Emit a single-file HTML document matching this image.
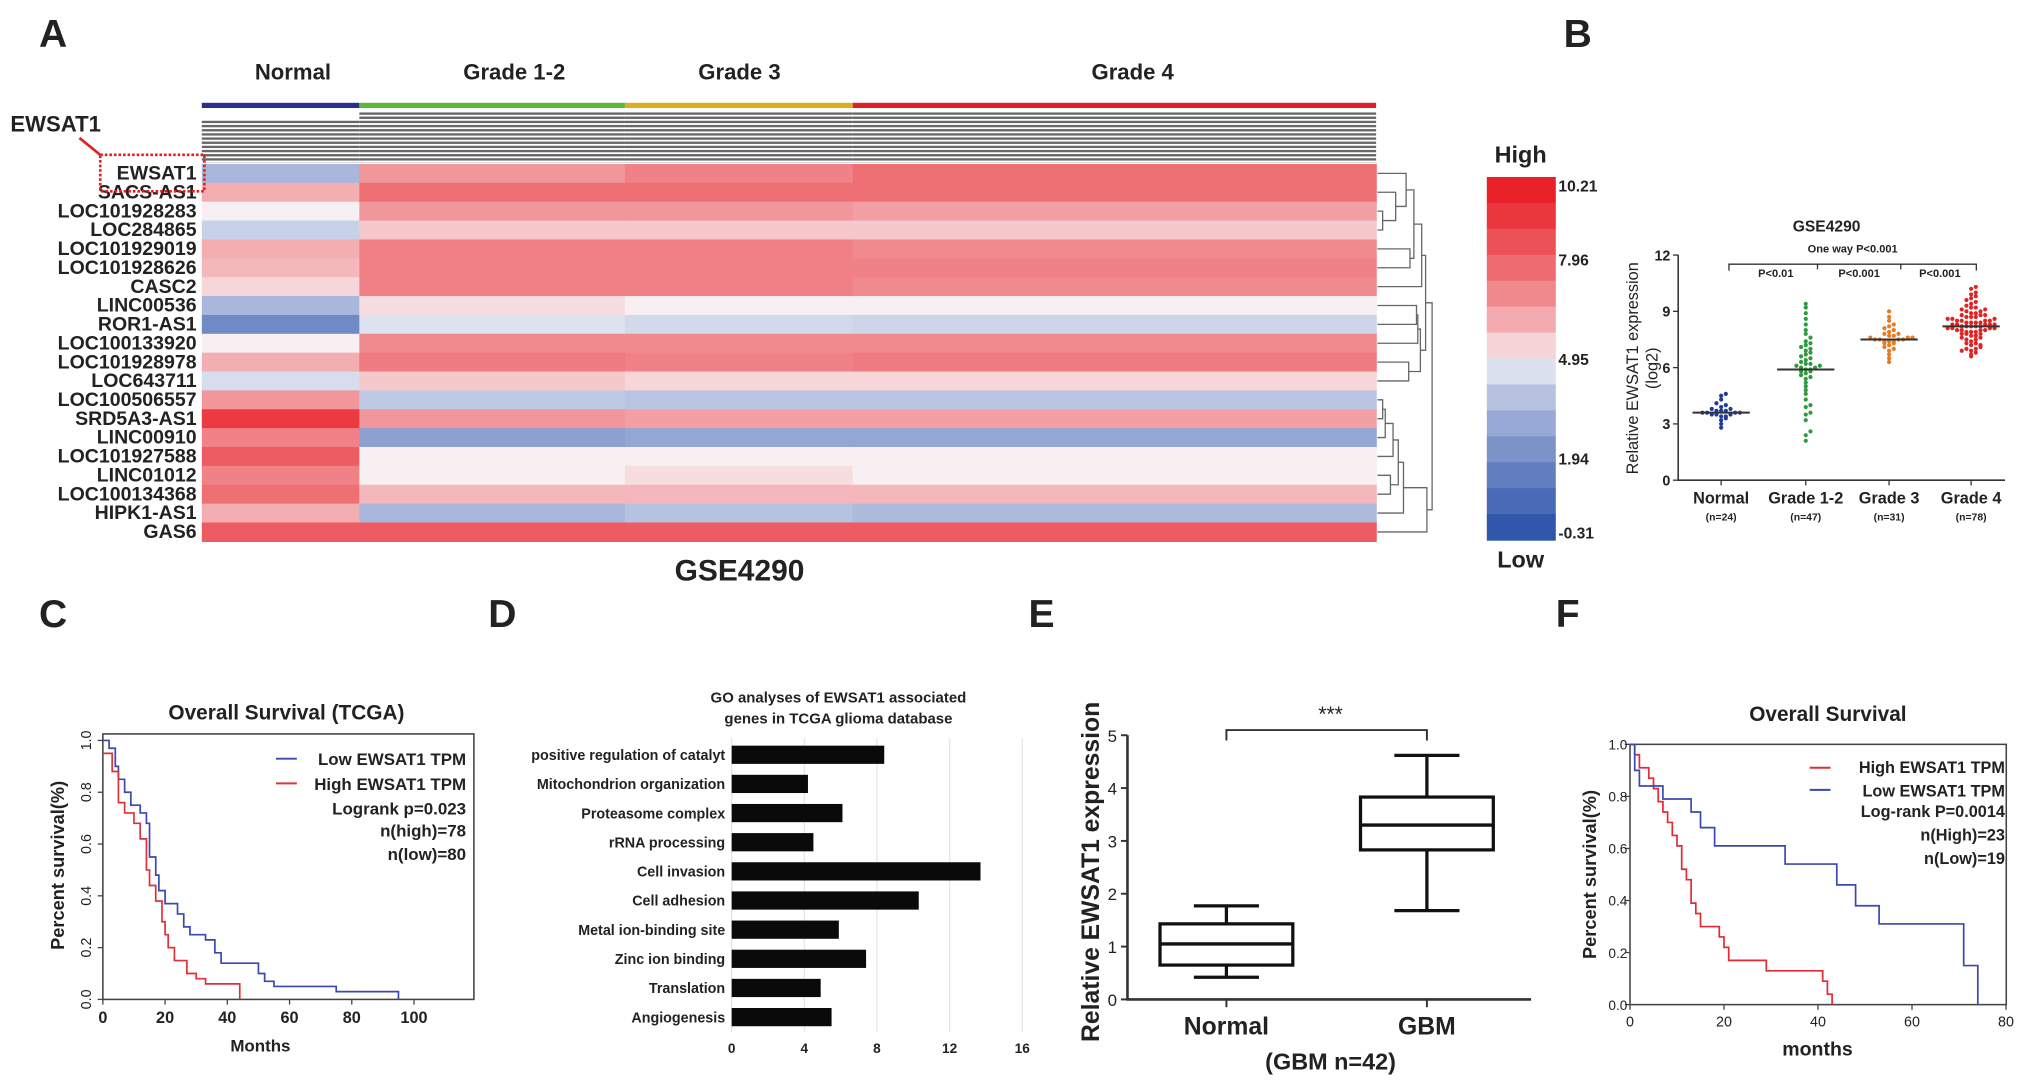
<!DOCTYPE html>
<html><head><meta charset="utf-8">
<style>
html,body{margin:0;padding:0;background:#fff;}
svg{display:block;font-family:"Liberation Sans",Arial,sans-serif;}
</style></head>
<body>
<svg id="fig" width="2031" height="1084" viewBox="0 0 1560 833" preserveAspectRatio="none" xmlns="http://www.w3.org/2000/svg">
<defs>
<pattern id="hatch" width="4" height="3.2" patternUnits="userSpaceOnUse">
<rect width="4" height="3.2" fill="#fff"/><rect width="4" height="1.8" fill="#666"/>
</pattern>
</defs>
<g id="root"></g>
</svg>
<script>
// ===== Panel A data =====
const heatGenes = ["EWSAT1","SACS-AS1","LOC101928283","LOC284865","LOC101929019","LOC101928626","CASC2","LINC00536","ROR1-AS1","LOC100133920","LOC101928978","LOC643711","LOC100506557","SRD5A3-AS1","LINC00910","LOC101927588","LINC01012","LOC100134368","HIPK1-AS1","GAS6"];
const heatGroups = ["Normal","Grade 1-2","Grade 3","Grade 4"];
const heatGroupN = [24,47,31,78];
const heatNormal = [3.5,6.0,5.0,4.2,6.0,5.8,5.3,3.5,2.0,5.0,6.0,4.5,6.5,9.0,7.0,8.0,7.0,7.5,6.0,8.0];
const heatG12 = [6.5,7.5,6.5,5.5,7.0,7.0,7.0,5.2,4.6,6.8,7.2,5.5,4.0,6.5,2.8,5.0,5.0,5.8,3.5,8.0];
const heatG3 = [7.0,7.5,6.5,5.5,7.0,7.0,7.0,5.0,4.4,6.8,7.0,5.3,3.9,6.3,3.0,5.0,5.2,5.8,3.8,8.0];
const heatG4 = [7.5,7.5,6.3,5.5,6.8,7.0,6.8,5.0,4.3,6.8,7.2,5.3,3.9,6.3,3.0,5.0,5.0,5.8,3.6,8.0];
const scaleTicks = [10.21,7.96,4.95,1.94,-0.31];
// ===== Panel B data =====
const bCats = ["Normal","Grade 1-2","Grade 3","Grade 4"];
const bNs = ["(n=24)","(n=47)","(n=31)","(n=78)"];
const bNormal = [3.0,3.2,3.3,3.4,3.4,3.5,3.5,3.5,3.6,3.6,3.6,3.6,3.7,3.7,3.7,3.8,3.8,3.9,4.0,4.1,4.3,4.5,4.6,2.8];
const bG12 = [2.1,2.4,2.6,3.2,3.5,3.6,3.9,4.3,4.6,4.8,5.0,5.2,5.4,5.5,5.6,5.7,5.8,5.8,5.9,5.9,6.0,6.0,6.1,6.1,6.2,6.2,6.3,6.4,6.5,6.6,6.7,6.8,6.9,7.0,7.1,7.2,7.3,7.4,7.6,7.8,8.0,8.3,8.6,8.9,9.2,9.4,4.0];
const bG3 = [6.3,6.5,6.7,6.9,7.0,7.1,7.2,7.3,7.3,7.4,7.4,7.4,7.5,7.5,7.5,7.5,7.6,7.6,7.6,7.7,7.7,7.8,7.8,7.9,8.0,8.1,8.2,8.3,8.5,8.7,9.0];
const bG4 = [6.6,6.7,6.8,6.9,7.0,7.0,7.1,7.2,7.3,7.3,7.4,7.5,7.5,7.6,7.6,7.7,7.7,7.8,7.8,7.8,7.9,7.9,7.9,8.0,8.0,8.0,8.0,8.1,8.1,8.1,8.1,8.2,8.2,8.2,8.2,8.2,8.3,8.3,8.3,8.3,8.3,8.4,8.4,8.4,8.4,8.5,8.5,8.5,8.5,8.6,8.6,8.6,8.7,8.7,8.7,8.8,8.8,8.8,8.9,8.9,9.0,9.0,9.1,9.1,9.2,9.2,9.3,9.4,9.5,9.6,9.7,9.8,9.9,10.0,10.2,10.3,6.9,7.2];
const bMeans = [3.6,5.9,7.5,8.2];
const bYTicks = [0,3,6,9,12];
// ===== Panel C data =====
const cLowT = [0,2,4,5,7,9,12,14,15,17,18,20,24,26,28,33,36,38,50,52,55,75,95];
const cLowS = [1,0.97,0.9,0.85,0.8,0.75,0.72,0.68,0.55,0.48,0.42,0.37,0.33,0.28,0.25,0.23,0.18,0.14,0.1,0.07,0.05,0.03,0];
const cHighT = [0,3,5,7,10,12,14,15,17,19,20,21,23,27,30,33,44];
const cHighS = [0.95,0.88,0.76,0.72,0.68,0.62,0.5,0.44,0.38,0.3,0.25,0.2,0.15,0.1,0.08,0.06,0];
const cXTicks = [0,20,40,60,80,100];
const cYTicks = [0,0.2,0.4,0.6,0.8,1.0];
// ===== Panel D data =====
const goTerms = ["positive regulation of catalyt","Mitochondrion organization","Proteasome complex","rRNA processing","Cell invasion","Cell adhesion","Metal ion-binding site","Zinc ion binding","Translation","Angiogenesis"];
const goValues = [8.4,4.2,6.1,4.5,13.7,10.3,5.9,7.4,4.9,5.5];
const goTicks = [0,4,8,12,16];
// ===== Panel E data =====
const eCats = ["Normal","GBM"];
const eMin = [0.42,1.68], eQ1=[0.65,2.83], eMed=[1.05,3.3], eQ3=[1.43,3.83], eMax=[1.77,4.62];
const eTicks = [0,1,2,3,4,5];
// ===== Panel F data =====
const fHighT = [0,1,2,4,5,6,7,8,9,10,11,12,13,14,15,19,20,21,29,41,42,43];
const fHighS = [1,0.96,0.91,0.87,0.83,0.78,0.74,0.7,0.65,0.61,0.52,0.48,0.39,0.35,0.3,0.26,0.22,0.17,0.13,0.09,0.04,0];
const fLowT = [0,1,2,7,13,15,18,33,44,48,53,71,74];
const fLowS = [1,0.9,0.84,0.79,0.74,0.68,0.61,0.54,0.46,0.38,0.31,0.15,0];
const fXTicks = [0,20,40,60,80];
const fYTicks = [0,0.2,0.4,0.6,0.8,1.0];

const NS="http://www.w3.org/2000/svg";
const root=document.getElementById('root');
function mk(tag,attrs,parent){const e=document.createElementNS(NS,tag);for(const k in attrs)e.setAttribute(k,attrs[k]);(parent||root).appendChild(e);return e;}
function txt(s,x,y,size,opts,parent){opts=opts||{};const e=mk('text',{x:x,y:y,'font-size':size,'font-weight':opts.w||'bold','text-anchor':opts.a||'start',fill:opts.fill||'#222'},parent);if(opts.rot)e.setAttribute('transform','rotate('+opts.rot+' '+x+' '+y+')');e.textContent=s;return e;}

// panel letters
[["A",30,36],["B",1201,36],["C",30,482],["D",375,482],["E",790,482],["F",1195,482]].forEach(p=>{const t=txt(p[0],p[1],p[2],30);

});

// ===== Panel A =====
const gA=mk('g',{});


const hx0=155,hx1=1057,hy0=126,rowH=14.5;
const grpW=[121,204,175,402];
const grpColors=["#2a2f8f","#5cb83a","#d8b020","#e02028"];
const grpLabelX=[225,395,568,870];
function heatColor(v){const lo=-0.31,mid=4.95,hi=10.21;let r,g,b;
 if(v>=mid){const t=Math.pow(Math.min(1,(v-mid)/(hi-mid)),0.7);r=248+(232-248)*t;g=248+(20-248)*t;b=250+(28-250)*t;}
 else{const t=Math.pow(Math.min(1,(mid-v)/(mid-lo)),0.75);r=248+(38-248)*t;g=248+(78-248)*t;b=250+(168-250)*t;}
 return 'rgb('+Math.round(r)+','+Math.round(g)+','+Math.round(b)+')';}
const heatData=[heatNormal,heatG12,heatG3,heatG4];
let gx=hx0;
heatGroups.forEach((gname,gi)=>{
 const t=txt(gname,grpLabelX[gi],61,17,{a:'middle'},gA);
 
 
 const bar=mk('rect',{x:gx,y:79,width:grpW[gi],height:4,fill:grpColors[gi]},gA);
 
 
 const hat=mk('rect',{x:gx,y:gi==0?92:86,width:grpW[gi],height:gi==0?33:39,fill:'url(#hatch)'},gA);
 
 
 heatGenes.forEach((gene,ri)=>{
  const c=mk('rect',{x:gx,y:hy0+ri*rowH,width:grpW[gi]+0.5,height:rowH+0.5,fill:heatColor(heatData[gi][ri])},gA);
  
  
 });
 gx+=grpW[gi];
});
heatGenes.forEach((gene,ri)=>{
 const t=txt(gene,151,hy0+ri*rowH+12,15,{a:'end'},gA);
 
 
});
let t0=txt("EWSAT1",8,101,17,{},gA);


const cb=mk('rect',{x:77,y:119,width:80,height:28,fill:'none',stroke:'#e02020','stroke-width':2,'stroke-dasharray':'2,1.5'},gA);


mk('line',{x1:61,y1:106,x2:77,y2:119,stroke:'#e02020','stroke-width':2},gA);
t0=txt("GSE4290",568,446,23,{a:'middle'},gA);


// dendrogram
const dend=mk('g',{stroke:'#666','stroke-width':1,fill:'none'},gA);


const dx0=1058;
const leafY=i=>hy0+(i+0.5)*rowH;
const nodes={};
function node(name,a,b,h){const A=typeof a==='number'?{y:leafY(a),h:0}:nodes[a];const B=typeof b==='number'?{y:leafY(b),h:0}:nodes[b];
 mk('path',{d:'M'+(dx0+A.h)+' '+A.y+'H'+(dx0+h)+'V'+B.y+'H'+(dx0+B.h)},dend);nodes[name]={y:(A.y+B.y)/2,h:h};}
node('n1',2,3,4);node('n2',1,'n1',14);node('n3',0,'n2',22);node('n4',4,5,25);node('n5','n3','n4',28);node('n6','n5',6,34);
node('n7',7,8,30);node('n8','n7',9,31);node('n9',10,11,24);node('n10','n8','n9',33);node('n11','n6','n10',37);
node('m1',12,13,4);node('m2','m1',14,6);node('m3','m2',15,12);node('m4',16,17,10);node('m5','m3','m4',16);node('m6','m5',18,20);node('m7','m6',19,38);node('r','n11','m7',42);
// color scale
const csx=1142,csy0=136,csy1=415,steps=14;
for(let i=0;i<steps;i++){const v=10.21-(10.21+0.31)*(i+0.5)/steps;
 const r=mk('rect',{x:csx,y:csy0+(csy1-csy0)*i/steps,width:53,height:(csy1-csy0)/steps+0.5,fill:heatColor(v)},gA);
 
 }
const csY=v=>csy0+6+(10.21-v)/(10.52)*(csy1-csy0-12);
scaleTicks.forEach(v=>{const t=txt(v.toFixed(2),1197,csY(v)+5,12,{},gA);
 
 });
t0=txt("High",1168,125,18,{a:'middle'},gA);
t0=txt("Low",1168,436,18,{a:'middle'},gA);

// ===== Panel B =====
const gB=mk('g',{});


const bx0=1289,bx1=1540,by0=369,by12=196;
const bY=v=>by0-(by0-by12)*v/12;
const bX=[1322,1387,1451,1514];
mk('path',{d:'M'+bx0+' '+by12+'V'+by0+'H'+bx1,stroke:'#333','stroke-width':1.2,fill:'none'},gB);
bYTicks.forEach(v=>{mk('line',{x1:bx0-4,x2:bx0,y1:bY(v),y2:bY(v),stroke:'#333'},gB);
 const t=txt(String(v),bx0-6,bY(v)+4,11,{a:'end'},gB);});
const bCol=["#1f3a9a","#2e9c3e","#e87a22","#e02424"];
[bNormal,bG12,bG3,bG4].forEach((arr,gi)=>{
 mk('line',{x1:bX[gi],x2:bX[gi],y1:by0,y2:by0+4,stroke:'#333'},gB);
 let t=txt(bCats[gi],bX[gi],387,12.5,{a:'middle'},gB);
 t=txt(bNs[gi],bX[gi],400,8,{a:'middle'},gB);
 const bins={};
 arr.forEach(v=>{const k=Math.round(v*4);const c=bins[k]||0;bins[k]=c+1;const off=(c%2?1:-1)*Math.ceil(c/2)*3.6;
  const p=mk('circle',{cx:bX[gi]+off,cy:bY(v),r:1.6,fill:bCol[gi]},gB);
  
  });
 const m=mk('line',{x1:bX[gi]-22,x2:bX[gi]+22,y1:bY(bMeans[gi]),y2:bY(bMeans[gi]),stroke:'#333','stroke-width':1.5},gB);
 
 
});
t0=txt("GSE4290",1403,178,12,{a:'middle'},gB);
t0=txt("One way P<0.001",1423,194,8.5,{a:'middle'},gB);
mk('path',{d:'M1328 208V203H1518V208M1396 203V207M1460 203V207',stroke:'#333',fill:'none'},gB);
[["P<0.01",1364],["P<0.001",1428],["P<0.001",1490]].forEach(p=>{const t=txt(p[0],p[1],213,8.5,{a:'middle'},gB);});
t0=txt("Relative EWSAT1 expression",1258,283,12.5,{a:'middle',w:'normal',rot:-90},gB);
t0=txt("(log2)",1273,283,12.5,{a:'middle',w:'normal',rot:-90},gB);

// ===== survival helper =====
function km(g,T,S,xf,yf,color,name){let d='M'+xf(T[0])+' '+yf(S[0]);
 for(let i=1;i<T.length;i++){d+='H'+xf(T[i])+'V'+yf(S[i]);}
 const p=mk('path',{d:d,stroke:color,'stroke-width':1.3,fill:'none'},g);
 
 }

// ===== Panel C =====
const gC=mk('g',{});


const cx0=79,cx1=364,cyT=564,cyB=768;
const cX=m=>cx0+m*2.39, cY=s=>768-s*199;
mk('rect',{x:cx0,y:cyT,width:cx1-cx0,height:cyB-cyT,fill:'none',stroke:'#444','stroke-width':1.2},gC);
cXTicks.forEach(v=>{mk('line',{x1:cX(v),x2:cX(v),y1:cyB,y2:cyB+4,stroke:'#444'},gC);
 const t=txt(String(v),cX(v),cyB+18,12.5,{a:'middle'},gC);});
cYTicks.forEach(v=>{mk('line',{x1:cx0-4,x2:cx0,y1:cY(v),y2:cY(v),stroke:'#444'},gC);
 const t=txt(v.toFixed(1),cx0-9,cY(v),11,{a:'middle',w:'normal',rot:-90},gC);});
km(gC,cLowT,cLowS,cX,cY,'#3a48b0','c-low-curve');
km(gC,cHighT,cHighS,cX,cY,'#e0303a','c-high-curve');
t0=txt("Overall Survival (TCGA)",220,553,16,{a:'middle'},gC);
t0=txt("Months",200,808,13,{a:'middle'},gC);
t0=txt("Percent survival(%)",49,665,14,{a:'middle',rot:-90},gC);
mk('line',{x1:212,x2:228,y1:583,y2:583,stroke:'#3a48b0','stroke-width':1.5},gC);
mk('line',{x1:212,x2:228,y1:602,y2:602,stroke:'#e0303a','stroke-width':1.5},gC);
[["Low EWSAT1 TPM",588],["High EWSAT1 TPM",607],["Logrank p=0.023",626],["n(high)=78",643],["n(low)=80",661]].forEach(p=>{const t=txt(p[0],358,p[1],13,{a:'end'},gC);});

// ===== Panel D =====
const gD=mk('g',{});


const dX=v=>562+v*13.95;
goTicks.forEach(v=>{mk('line',{x1:dX(v),x2:dX(v),y1:567,y2:793,stroke:'#e6e6e6'},gD);
 const t=txt(String(v),dX(v),809,10.5,{a:'middle'},gD);});
goTerms.forEach((term,i)=>{const yc=580+i*22.4;
 const b=mk('rect',{x:dX(0),y:yc-7,width:dX(goValues[i])-dX(0),height:14,fill:'#0a0a0a'},gD);
 
 
 const t=txt(term,557,yc+4,11,{a:'end'},gD);});
t0=txt("GO analyses of EWSAT1 associated",644,540,11.5,{a:'middle'},gD);
t0=txt("genes in TCGA glioma database",644,556,11.5,{a:'middle'},gD);

// ===== Panel E =====
const gE=mk('g',{});


const ex0=866,ex1=1176,eY=v=>768-v*40.6;const eX=[942,1096];
mk('path',{d:'M'+ex0+' '+eY(5)+'V768H'+ex1,stroke:'#333','stroke-width':2,fill:'none'},gE);
eTicks.forEach(v=>{mk('line',{x1:ex0-5,x2:ex0,y1:eY(v),y2:eY(v),stroke:'#333','stroke-width':1.5},gE);
 const t=txt(String(v),ex0-8,eY(v)+5,13,{a:'end',w:'normal'},gE);});
eCats.forEach((c,i)=>{const x=eX[i];
 mk('line',{x1:x,x2:x,y1:768,y2:774,stroke:'#333','stroke-width':1.5},gE);
 const b=mk('rect',{x:x-51,y:eY(eQ3[i]),width:102,height:eY(eQ1[i])-eY(eQ3[i]),fill:'none',stroke:'#111','stroke-width':2.5},gE);
 
 
 mk('line',{x1:x-51,x2:x+51,y1:eY(eMed[i]),y2:eY(eMed[i]),stroke:'#111','stroke-width':2.5},gE);
 mk('path',{d:'M'+x+' '+eY(eQ3[i])+'V'+eY(eMax[i])+'M'+(x-25)+' '+eY(eMax[i])+'H'+(x+25)+'M'+x+' '+eY(eQ1[i])+'V'+eY(eMin[i])+'M'+(x-25)+' '+eY(eMin[i])+'H'+(x+25),stroke:'#111','stroke-width':2.5,fill:'none'},gE);
 const t=txt(c,x,795,19,{a:'middle'},gE);});
mk('path',{d:'M942 569V561H1096V569',stroke:'#333','stroke-width':1.5,fill:'none'},gE);
t0=txt("***",1022,554,16,{a:'middle',w:'normal'},gE);
t0=txt("(GBM n=42)",1022,822,18,{a:'middle'},gE);
t0=txt("Relative EWSAT1 expression",844,670,19,{a:'middle',rot:-90},gE);

// ===== Panel F =====
const gF=mk('g',{});


const fx0=1252,fx1=1541,fyT=572,fyB=772;
const fX=m=>fx0+m*3.61,fY=s=>fyB-s*200;
mk('rect',{x:fx0,y:fyT,width:fx1-fx0,height:fyB-fyT,fill:'none',stroke:'#444','stroke-width':1.2},gF);
fXTicks.forEach(v=>{mk('line',{x1:fX(v),x2:fX(v),y1:fyB,y2:fyB+4,stroke:'#444'},gF);
 const t=txt(String(v),fX(v),fyB+17,11,{a:'middle',w:'normal'},gF);});
fYTicks.forEach(v=>{mk('line',{x1:fx0-4,x2:fx0,y1:fY(v),y2:fY(v),stroke:'#444'},gF);
 const t=txt(v.toFixed(1),fx0-2,fY(v)+4,10.5,{a:'end',w:'normal'},gF);});
km(gF,fHighT,fHighS,fX,fY,'#e02a34','f-high-curve');
km(gF,fLowT,fLowS,fX,fY,'#3a48b0','f-low-curve');
t0=txt("Overall Survival",1404,554,16,{a:'middle'},gF);
t0=txt("months",1396,811,15,{a:'middle'},gF);
t0=txt("Percent survival(%)",1226,672,14,{a:'middle',rot:-90},gF);
mk('line',{x1:1390,x2:1406,y1:590,y2:590,stroke:'#e02a34','stroke-width':1.5},gF);
mk('line',{x1:1390,x2:1406,y1:607,y2:607,stroke:'#3a48b0','stroke-width':1.5},gF);
[["High EWSAT1 TPM",594],["Low EWSAT1 TPM",612],["Log-rank P=0.0014",628],["n(High)=23",646],["n(Low)=19",664]].forEach(p=>{const t=txt(p[0],1540,p[1],12.5,{a:'end'},gF);});
</script>
</body></html>
